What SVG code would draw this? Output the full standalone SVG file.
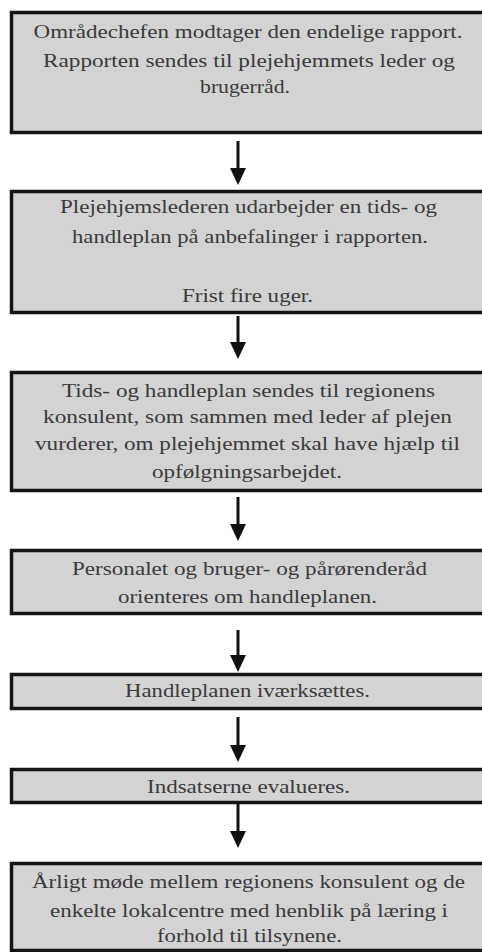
<svg xmlns="http://www.w3.org/2000/svg" width="482" height="952" viewBox="0 0 482 952">
  <style>
    .box { fill: #d3d3d3; stroke: #141414; stroke-width: 3.5; }
    .lbl { font-family: "Liberation Serif", "DejaVu Serif", serif; font-size: 19px; fill: #3a3a3a; text-anchor: middle; }
    .shaft { stroke: #111; stroke-width: 3; }
    .head { fill: #111; }
  </style>
  <rect width="482" height="952" fill="#ffffff"/>

  <!-- downward arrows between consecutive steps -->
  <g id="connectors">
    <line class="shaft" x1="238" y1="141" x2="238" y2="172"/>
    <polygon class="head" points="230,168 246,168 238,185"/>
    <line class="shaft" x1="238" y1="316" x2="238" y2="346"/>
    <polygon class="head" points="230,342 246,342 238,359"/>
    <line class="shaft" x1="238" y1="497" x2="238" y2="528"/>
    <polygon class="head" points="230,524 246,524 238,541"/>
    <line class="shaft" x1="238" y1="630" x2="238" y2="659"/>
    <polygon class="head" points="230,655 246,655 238,672"/>
    <line class="shaft" x1="238" y1="717" x2="238" y2="749"/>
    <polygon class="head" points="230,745 246,745 238,762"/>
    <line class="shaft" x1="238" y1="804" x2="238" y2="835"/>
    <polygon class="head" points="230,831 246,831 238,848"/>
  </g>

  <g id="step1">
    <rect class="box" x="11.5" y="12.5" width="480" height="120"/>
    <text class="lbl" x="248" y="38" textLength="429" lengthAdjust="spacingAndGlyphs">Områdechefen modtager den endelige rapport.</text>
    <text class="lbl" x="249" y="67" textLength="412" lengthAdjust="spacingAndGlyphs">Rapporten sendes til plejehjemmets leder og</text>
    <text class="lbl" x="245" y="93" textLength="90" lengthAdjust="spacingAndGlyphs">brugerråd.</text>
  </g>

  <g id="step2">
    <rect class="box" x="11.5" y="191.5" width="480" height="121"/>
    <text class="lbl" x="248.5" y="213" textLength="377" lengthAdjust="spacingAndGlyphs">Plejehjemslederen udarbejder en tids- og</text>
    <text class="lbl" x="250" y="243" textLength="356" lengthAdjust="spacingAndGlyphs">handleplan på anbefalinger i rapporten.</text>
    <text class="lbl" x="247.5" y="302" textLength="131" lengthAdjust="spacingAndGlyphs">Frist fire uger.</text>
  </g>

  <g id="step3">
    <rect class="box" x="11.5" y="372.5" width="480" height="118"/>
    <text class="lbl" x="248.5" y="397" textLength="373" lengthAdjust="spacingAndGlyphs">Tids- og handleplan sendes til regionens</text>
    <text class="lbl" x="247.5" y="423" textLength="409" lengthAdjust="spacingAndGlyphs">konsulent, som sammen med leder af plejen</text>
    <text class="lbl" x="247.5" y="450" textLength="425" lengthAdjust="spacingAndGlyphs">vurderer, om plejehjemmet skal have hjælp til</text>
    <text class="lbl" x="247" y="478" textLength="190" lengthAdjust="spacingAndGlyphs">opfølgningsarbejdet.</text>
  </g>

  <g id="step4">
    <rect class="box" x="11.5" y="550.5" width="480" height="63"/>
    <text class="lbl" x="249.5" y="575" textLength="355" lengthAdjust="spacingAndGlyphs">Personalet og bruger- og pårørenderåd</text>
    <text class="lbl" x="247.5" y="603" textLength="259" lengthAdjust="spacingAndGlyphs">orienteres om handleplanen.</text>
  </g>

  <g id="step5">
    <rect class="box" x="11.5" y="674.5" width="480" height="34"/>
    <text class="lbl" x="247.5" y="697" textLength="245" lengthAdjust="spacingAndGlyphs">Handleplanen iværksættes.</text>
  </g>

  <g id="step6">
    <rect class="box" x="11.5" y="769.5" width="480" height="33"/>
    <text class="lbl" x="248.5" y="793" textLength="203" lengthAdjust="spacingAndGlyphs">Indsatserne evalueres.</text>
  </g>

  <g id="step7">
    <rect class="box" x="11.5" y="863.5" width="480" height="87"/>
    <text class="lbl" x="248.5" y="888" textLength="433" lengthAdjust="spacingAndGlyphs">Årligt møde mellem regionens konsulent og de</text>
    <text class="lbl" x="249" y="917" textLength="398" lengthAdjust="spacingAndGlyphs">enkelte lokalcentre med henblik på læring i</text>
    <text class="lbl" x="249.5" y="942" textLength="185" lengthAdjust="spacingAndGlyphs">forhold til tilsynene.</text>
  </g>
</svg>
